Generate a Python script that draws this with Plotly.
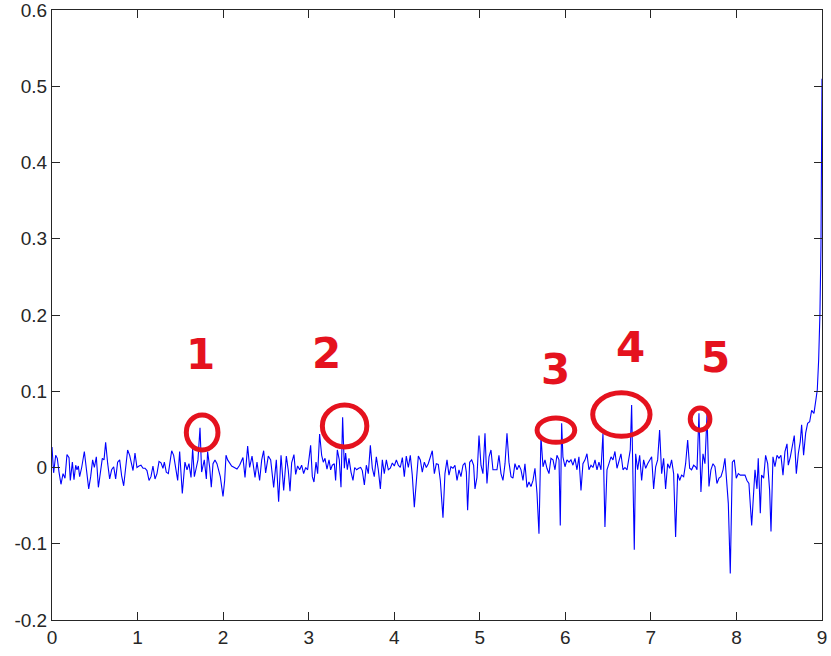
import plotly.graph_objects as go

# ---- signal in segments ----
t1 = [0.000,0.019,0.043,0.062,0.082,0.105,0.129,0.152,0.175,0.199,
      0.214,0.238,0.257,0.277,0.292,0.308,0.323,0.347,0.378,0.401,
      0.429,0.452,0.475,0.495,0.518,0.542,0.565,0.588,0.608,0.627,
      0.651,0.674,0.697,0.721,0.744,0.767,0.791,0.814,0.838,0.861,
      0.884,0.908,0.931,0.947,0.970,0.993,1.017,1.040,1.064,1.087,
      1.110,1.134,1.157,1.180,1.204,1.227,1.251,1.274,1.297,1.313,
      1.336,1.360,1.383,1.399,1.422,1.445,1.469,1.492]
v1 = [0.027,-0.007,0.016,0.012,-0.006,-0.022,-0.008,-0.014,0.017,0.013,
      -0.017,0.007,-0.016,0.003,-0.003,0.002,-0.012,0.000,0.021,-0.004,
      -0.028,-0.012,0.010,0.000,0.014,-0.026,-0.009,0.012,0.010,0.033,
      0.005,-0.015,-0.003,0.001,-0.015,0.007,0.010,-0.011,-0.024,0.005,
      0.023,0.016,0.005,-0.004,0.019,0.000,0.002,0.003,-0.001,-0.001,
      -0.004,-0.017,-0.012,0.002,-0.015,-0.008,0.008,0.006,-0.001,0.007,
      -0.006,-0.008,0.010,0.022,0.016,-0.001,-0.017,0.021]

t2 = [1.523,1.554,1.578,1.601,1.625,1.644,1.664,1.687,1.706,1.730,
      1.749,1.780,1.804,1.819,1.843,1.862,1.882,1.905,1.928,1.967,
      1.999,2.018,2.034,2.053,2.073,2.100,2.131,2.162,2.193,2.232,
      2.256,2.287,2.310,2.338,2.373,2.396,2.427,2.451,2.474,2.497,
      2.528,2.556,2.591,2.622,2.649,2.677,2.708,2.739,2.762,2.782,
      2.801,2.828,2.848,2.871,2.895,2.918,2.941,2.965,2.988]
v2 = [-0.034,0.007,-0.003,0.005,-0.013,0.025,-0.012,0.000,0.010,0.052,
      -0.006,0.010,-0.015,0.021,0.000,-0.026,0.005,0.010,0.005,-0.012,
      -0.038,-0.017,0.016,0.010,0.007,0.002,0.000,-0.002,0.003,0.013,
      -0.013,0.028,0.000,0.015,-0.013,0.007,-0.017,0.010,0.022,-0.007,
      0.015,0.010,-0.026,0.010,-0.045,0.016,-0.030,0.015,-0.004,-0.031,
      0.006,0.017,-0.009,0.002,-0.003,0.003,-0.008,0.000,-0.003]

t3 = [3.023,3.043,3.062,3.086,3.105,3.128,3.152,3.171,3.191,3.214,
      3.238,3.257,3.276,3.300,3.315,3.335,3.358,3.378,3.397,3.417,
      3.432,3.452,3.471,3.495,3.518,3.538,3.561,3.584,3.608,3.627,
      3.651,3.674,3.697,3.721,3.744,3.767,3.791,3.814,3.838,3.861,
      3.884,3.908,3.931,3.954,3.978,4.001,4.025,4.048,4.071,4.095,
      4.118,4.141,4.165,4.188,4.211,4.235,4.258,4.282,4.305,4.328,
      4.352,4.375,4.398,4.422,4.445,4.469,4.492,4.515]
v3 = [0.029,-0.012,-0.019,0.007,-0.008,0.044,0.016,0.007,0.012,-0.002,
      0.010,-0.003,0.003,0.005,-0.017,0.023,0.010,-0.026,0.066,-0.001,
      0.019,-0.003,0.012,-0.006,-0.017,0.000,-0.003,-0.001,0.000,-0.004,
      -0.023,0.003,-0.008,0.029,-0.001,-0.012,0.014,-0.003,-0.028,0.010,
      -0.008,0.010,-0.003,-0.001,0.006,0.002,0.010,0.003,0.000,0.013,
      -0.012,0.015,0.000,0.016,-0.010,-0.052,-0.012,0.015,0.010,-0.006,
      0.007,0.000,0.005,0.015,0.022,-0.008,0.005,0.004]

t4 = [4.539,4.570,4.593,4.617,4.640,4.663,4.687,4.710,4.734,4.757,
      4.780,4.804,4.827,4.843,4.858,4.882,4.905,4.928,4.944,4.967,
      4.991,5.014,5.037,5.061,5.084,5.108,5.131,5.154,5.178,5.201,
      5.224,5.248,5.271,5.295,5.318,5.341,5.365,5.388,5.411,5.435,
      5.458,5.482,5.505,5.528,5.552,5.575,5.598,5.622,5.645,5.669,
      5.692,5.715,5.739,5.762,5.785,5.809,5.832,5.856,5.879,5.902,
      5.926,5.941,5.957,5.972,5.996,6.019,6.043]
v4 = [-0.017,-0.066,-0.008,0.010,-0.010,0.001,-0.001,0.003,-0.017,-0.003,
      -0.012,0.003,0.006,-0.006,-0.056,0.007,0.010,0.003,-0.028,-0.013,
      0.042,0.003,-0.008,0.045,-0.021,0.014,0.023,-0.003,-0.003,-0.003,
      0.016,-0.008,-0.017,0.005,0.045,0.007,-0.012,-0.014,0.005,-0.003,
      0.003,-0.003,-0.017,0.005,-0.026,-0.019,-0.025,-0.017,-0.001,-0.034,
      -0.087,0.041,0.001,0.010,-0.001,-0.008,0.012,0.010,-0.003,0.016,
      0.010,-0.076,0.058,0.014,0.001,0.010,0.007]

t5 = [6.066,6.089,6.113,6.136,6.159,6.183,6.206,6.230,6.253,6.276,
      6.300,6.323,6.347,6.370,6.393,6.417,6.440,6.463,6.487,6.510,
      6.534,6.557,6.580,6.604,6.627,6.650,6.674,6.697,6.721,6.744,
      6.759,6.775,6.791,6.806,6.822,6.845,6.869,6.892,6.915,6.939,
      6.962,6.985,7.009,7.032,7.056,7.079,7.102,7.126,7.149,7.172,
      7.196,7.219,7.242,7.266,7.289,7.313,7.336,7.359,7.383,7.406,
      7.430,7.453,7.476,7.500,7.523]
v5 = [0.010,0.003,0.012,-0.003,0.014,-0.030,0.005,0.010,0.018,-0.003,
      0.003,0.000,0.010,-0.003,0.007,-0.003,0.045,-0.078,-0.003,0.005,
      0.014,0.010,0.021,-0.001,0.007,0.018,-0.003,0.000,-0.003,0.012,
      0.023,0.082,-0.012,-0.108,0.018,-0.003,0.016,-0.017,0.010,-0.001,
      0.005,0.010,0.014,-0.028,0.001,0.010,0.049,-0.008,0.012,-0.028,
      0.005,-0.001,0.010,-0.008,-0.091,-0.008,-0.017,-0.010,-0.012,0.005,
      0.036,-0.001,-0.003,0.003,0.001]

t6 = [7.539,7.562,7.585,7.609,7.632,7.656,7.679,7.702,7.726,7.749,
      7.772,7.796,7.819,7.843,7.866,7.889,7.905,7.928,7.952,7.975,
      7.998,8.022,8.045,8.068,8.100,8.123,8.146,8.178,8.201,8.217,
      8.240,8.255,8.279,8.294,8.318,8.341,8.365,8.388,8.404,8.427,
      8.450,8.474,8.497,8.520,8.544,8.567,8.591,8.606,8.630,8.653,
      8.676,8.700,8.723,8.746,8.762,8.785,8.809,8.832,8.856,8.879,
      8.906,8.929,8.945,8.961,8.976,8.988,8.996,9.000]
v6 = [-0.003,0.071,-0.032,0.018,0.005,0.069,-0.025,-0.003,0.005,0.001,
      -0.021,-0.014,-0.012,-0.003,0.012,-0.025,-0.047,-0.139,0.007,0.010,
      -0.014,-0.008,-0.010,-0.010,-0.010,-0.017,-0.021,-0.076,-0.028,-0.003,
      -0.028,0.012,-0.060,-0.010,-0.014,0.016,0.005,-0.030,-0.084,0.014,
      0.001,0.016,0.012,0.016,-0.010,0.021,0.031,0.003,0.014,0.029,
      0.042,-0.008,0.018,0.034,0.056,0.016,0.045,0.058,0.060,0.075,
      0.071,0.089,0.102,0.141,0.202,0.290,0.403,0.510]

t = t1 + t2 + t3 + t4 + t5 + t6
v = v1 + v2 + v3 + v4 + v5 + v6

# ---- axis ticks ----
x_ticks = [0, 1, 2, 3, 4, 5, 6, 7, 8, 9]
y_ticks = [-0.2, -0.1, 0, 0.1, 0.2, 0.3, 0.4, 0.5, 0.6]
y_tick_labels = ["-0.2", "-0.1", "0", "0.1", "0.2", "0.3", "0.4", "0.5", "0.6"]

# ---- hand-drawn markings: labels and the circled peaks ----
mark_labels = ["1", "2", "3", "4", "5"]
mark_label_x = [1.73, 3.21, 5.88, 6.76, 7.76]
mark_label_y = [0.148, 0.150, 0.128, 0.157, 0.144]
ring_x0 = [1.57, 3.16, 5.67, 6.32, 7.46]
ring_x1 = [1.94, 3.68, 6.11, 6.99, 7.69]
ring_y0 = [0.023, 0.027, 0.033, 0.041, 0.049]
ring_y1 = [0.069, 0.082, 0.065, 0.098, 0.078]

RED = "#E5121E"
AX = "#262626"

fig = go.Figure()
fig.add_trace(go.Scatter(x=t, y=v, mode="lines",
                         line=dict(color="#0000FF", width=1.1),
                         showlegend=False, hoverinfo="skip"))

for i in range(len(ring_x0)):
    fig.add_shape(type="circle", xref="x", yref="y",
                  x0=ring_x0[i], x1=ring_x1[i], y0=ring_y0[i], y1=ring_y1[i],
                  line=dict(color=RED, width=5))

for i, s in enumerate(mark_labels):
    fig.add_annotation(x=mark_label_x[i], y=mark_label_y[i], text=s,
                       showarrow=False, xref="x", yref="y",
                       font=dict(family="DejaVu Sans", size=42, color=RED, weight="bold"))

axis_style = dict(showgrid=False, zeroline=False, showline=True, linecolor=AX,
                  linewidth=1, mirror="allticks", ticks="inside", ticklen=8,
                  tickcolor=AX, automargin=False, ticklabeloverflow="allow",
                  tickfont=dict(family="Liberation Sans", size=19, color=AX))

fig.update_xaxes(range=[0, 9.0001], tickvals=x_ticks,
                 ticktext=[str(k) for k in x_ticks], **axis_style)
fig.update_yaxes(range=[-0.2, 0.60001], tickvals=y_ticks,
                 ticktext=y_tick_labels, **axis_style)

fig.update_layout(width=831, height=656,
                  margin=dict(l=52, r=9, t=10, b=36),
                  paper_bgcolor="white", plot_bgcolor="white")

fig.write_html("out.html", config={"displayModeBar": False},
               post_script="document.body.style.margin='0';document.body.style.overflow='hidden';")
